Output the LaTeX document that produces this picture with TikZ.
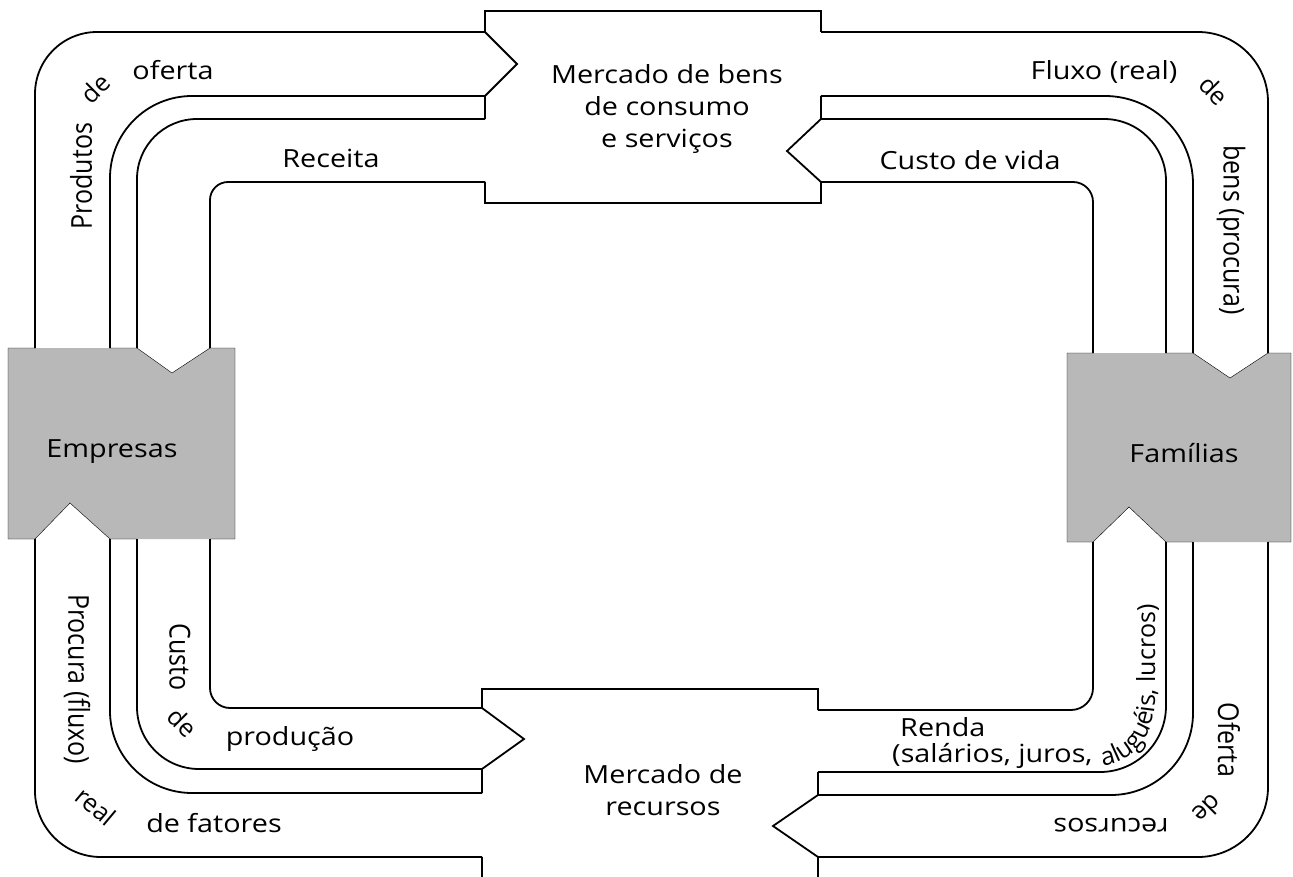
\documentclass[tikz,border=0pt]{standalone}
\usepackage{fontspec}
\setmainfont{Open Sans}
\usetikzlibrary{positioning,decorations.text}
\pgfdeclarelayer{background1}
\pgfsetlayers{background1,main}

\begin{document}
\begin{tikzpicture}[x=1pt,y=-1pt,line width=1.8pt,line join=miter]

	\definecolor{boxgray}{rgb}{0.72,0.72,0.72}
	\tikzset{lbl/.style={inner sep=0pt,align=center,font=\fontsize{25}{32}\selectfont},
		wlbl/.style={lbl,xscale=1.15},
		flow/.style={line width=1.8pt,rounded corners=#1}}
	\useasboundingbox (0,0) rectangle (1293,877);

	% mercado de bens
	\draw (485,32) -- (485,11) -- (821,11) -- (821,32);
	\draw (485,32) -- (517,64) -- (485,96) -- (485,119);
	\draw (485,182) -- (485,203) -- (821,203) -- (821,182) -- (787,151) -- (821,119) -- (821,96);
	\node(mbens) [wlbl] at (667,109) {Mercado de bens\\de consumo\\e serviços};

	% mercado de recursos
	\draw (482,880) -- (482,857);
	\draw (482,793) -- (482,769) -- (524,739) -- (482,708) -- (482,689) -- (818,689) -- (818,710);
	\draw (818,772) -- (818,795) -- (773,826) -- (818,857) -- (818,880);
	\node(mrec) [wlbl] at (663,790) {Mercado de\\recursos};

	% empresas
	\begin{pgfonlayer}{background1}
		\fill[boxgray] (8,348) -- (137,348) -- (172,373) -- (210,348) -- (235,348) -- (235,539) -- (110,539) -- (70,503) -- (35,539) -- (8,539) -- cycle;
		\fill[boxgray] (1067,353) -- (1193,353) -- (1230,378) -- (1268,353) -- (1291,353) -- (1291,542) -- (1166,542) -- (1129,507) -- (1093,542) -- (1067,542) -- cycle;
	\end{pgfonlayer}
	\draw (35,348) -- (8,348) -- (8,539) -- (35,539) -- (70,503) -- (110,539) -- (137,539);
	\draw (210,539) -- (235,539) -- (235,348) -- (210,348) -- (172,373) -- (137,348) -- (110,348);
	\node(emp) [wlbl,anchor=base] at (112,457) {Empresas};

	% familias
	\draw (1093,353) -- (1067,353) -- (1067,542) -- (1093,542) -- (1129,507) -- (1166,542) -- (1193,542);
	\draw (1268,542) -- (1291,542) -- (1291,353) -- (1268,353) -- (1230,378) -- (1193,353) -- (1166,353);
	\node(fam) [wlbl,anchor=base] at (1184,462) {Famílias};

	% fluxos de cima
	\draw[flow=62pt] (35,348) -- (35,32) -- (485,32);
	\draw[flow=82pt] (110,348) -- (110,96) -- (485,96);
	\draw[flow=60pt] (137,348) -- (137,119) -- (485,119);
	\draw[flow=18pt] (210,348) -- (210,182) -- (485,182);
	\draw[flow=70pt] (821,32) -- (1268,32) -- (1268,353);
	\draw[flow=88pt] (821,96) -- (1193,96) -- (1193,353);
	\draw[flow=62pt] (821,119) -- (1166,119) -- (1166,353);
	\draw[flow=20pt] (821,182) -- (1093,182) -- (1093,353);

	% fluxos de baixo
	\draw[flow=66pt] (35,539) -- (35,857) -- (482,857);
	\draw[flow=82pt] (110,539) -- (110,793) -- (482,793);
	\draw[flow=62pt] (137,539) -- (137,769) -- (482,769);
	\draw[flow=20pt] (210,539) -- (210,708) -- (482,708);
	\draw[flow=22pt] (818,710) -- (1093,710) -- (1093,542);
	\draw[flow=66pt] (818,772) -- (1166,772) -- (1166,542);
	\draw[flow=82pt] (818,795) -- (1193,795) -- (1193,542);
	\draw[flow=70pt] (818,857) -- (1268,857) -- (1268,542);

	% textos
	\node(produtos) [wlbl,rotate=90] at (81,176) {Produtos};
	\node(de1) [lbl,rotate=45] at (95,88) {de};
	\node(oferta) [wlbl,anchor=base] at (173,80) {oferta};
	\node(receita) [wlbl,anchor=base] at (331,168) {Receita};
	\node(fluxo) [wlbl,anchor=base] at (1104,80) {Fluxo (real)};
	\node(de2) [lbl,rotate=-45] at (1214,90) {de};
	\node(bens) [wlbl,rotate=-90] at (1231,230) {bens (procura)};
	\node(custovida) [wlbl,anchor=base] at (970,170) {Custo de vida};
	\node(procura) [wlbl,rotate=-90] at (77,679) {Procura (fluxo)};
	\node(real) [lbl,rotate=-40] at (96,806) {real};
	\node(fatores) [wlbl,anchor=base] at (214,832) {de fatores};
	\node(custo) [wlbl,rotate=-90] at (180,657) {Custo};
	\node(de3) [lbl,rotate=-45] at (183,722) {de};
	\node(producao) [wlbl,anchor=base] at (290,745) {produção};
	\node(renda) [wlbl,anchor=base west] at (900,736) {Renda};
	\node(salarios) [wlbl,anchor=base west] at (892,762) {(salários, juros,};
	\path[decorate,decoration={text along path,text align=left,
		text={|\fontsize{25}{32}\selectfont|aluguéis, lucros)}}]
		(1103,766) .. controls (1136,760) and (1155,735) .. (1155,698) -- (1155,540);
	\node(oferta2) [wlbl,rotate=-90] at (1229,740) {Oferta};
	\node(de4) [lbl,rotate=-135] at (1208,809) {de};
	\node(recursos) [wlbl,rotate=180] at (1111,825) {recursos};

\end{tikzpicture}
\end{document}
